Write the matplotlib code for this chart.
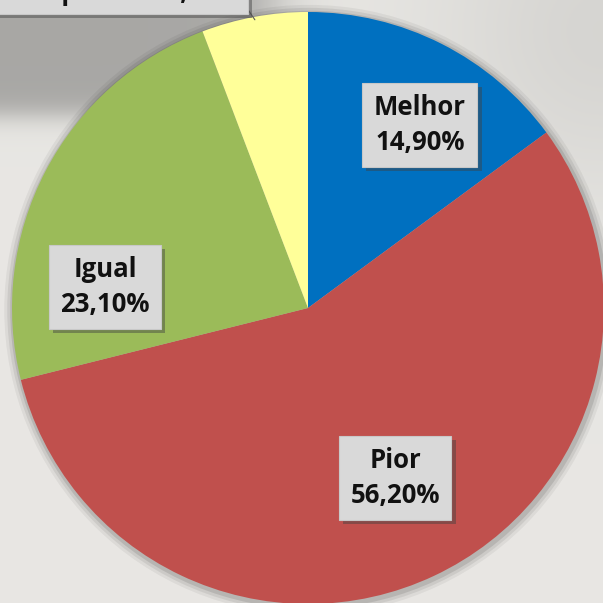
import numpy as np
import matplotlib
matplotlib.use("Agg")
import matplotlib.pyplot as plt
import matplotlib.patheffects as pe
from matplotlib.patches import Circle

categories = ["Melhor", "Pior", "Igual", "Não respondeu"]
values = [14.9, 56.2, 23.1, 5.8]
value_labels = ["14,90%", "56,20%", "23,10%", "5,80%"]
colors = ["#0070C0", "#C0504D", "#9BBB59", "#FFFF99"]

XL = (-1.0405, 0.9966)
YL = (-0.9966, 1.0405)

fig = plt.figure(figsize=(6.03, 6.03), dpi=100)
fig.patch.set_facecolor("#E4E4E2")
ax = fig.add_axes([0, 0, 1, 1])

wedges, _ = ax.pie(values, colors=colors, startangle=90, counterclock=False,
                   radius=1.0, center=(0, 0),
                   wedgeprops=dict(linewidth=0))
for w in wedges:
    w.set_zorder(3)

ax.set_xlim(*XL)
ax.set_ylim(*YL)
ax.set_aspect("equal")
ax.axis("off")

# soft shadow behind the pie
for k, a in zip([1.03, 1.02, 1.01], [0.05, 0.07, 0.10]):
    ax.add_patch(Circle((0.004, -0.006), k, fc="k", ec="none", alpha=a, zorder=1))

# background (textured gray look)
H = W = 300
yy, xx = np.mgrid[0:H, 0:W] / H
base = 0.91 - 0.07 * np.exp(-((xx - 1.0) ** 2 + (yy - 0.05) ** 2) / 0.08)
dark = 1 / (1 + np.exp((yy - 0.19) / 0.012)) * 1 / (1 + np.exp((xx - 0.45) / 0.03))
img = base * (1 - dark) + 0.66 * dark
rgb = np.dstack([img, img * 0.995, img * 0.98])
ax.imshow(rgb, extent=[XL[0], XL[1], YL[0], YL[1]], origin="upper",
          zorder=0, aspect="auto")
ax.set_xlim(*XL)
ax.set_ylim(*YL)

font = dict(family=["Open Sans", "DejaVu Sans"], weight="bold", color="#111111")
box = dict(boxstyle="square,pad=0.45", fc="#D9D9D9", ec="#C8C8C8", lw=0.8)

label_pos = [(0.378, 0.618), (0.294, -0.574), (-0.686, 0.071)]
for i in range(3):
    t = ax.text(label_pos[i][0], label_pos[i][1],
                f"{categories[i]}\n{value_labels[i]}",
                ha="center", va="center", fontsize=18.5, linespacing=1.35,
                bbox=box, zorder=5, **font)
    t.get_bbox_patch().set_path_effects(
        [pe.SimplePatchShadow(offset=(3, -3), alpha=0.45), pe.Normal()])

# label of the small slice (cut by the top edge, as in the reference) with leader line
box2 = dict(boxstyle="square,pad=0.3", fc="#D9D9D9", ec="#C8C8C8", lw=0.8)
theta = np.deg2rad(90 + values[3] * 3.6 / 2)
tip = (np.cos(theta) * 0.99, np.sin(theta) * 0.99)
t = ax.annotate(f"{categories[3]} {value_labels[3]}", xy=tip,
                xytext=(-0.23, 1.066), ha="right", va="center",
                fontsize=18.5, bbox=box2, zorder=5, annotation_clip=False,
                arrowprops=dict(arrowstyle="-", color="#595959", lw=0.8,
                                shrinkA=0, shrinkB=0, relpos=(1.0, 0.3)),
                **font)
t.get_bbox_patch().set_path_effects(
    [pe.SimplePatchShadow(offset=(3, -3), alpha=0.45), pe.Normal()])

fig.savefig("out.png", dpi=100)
